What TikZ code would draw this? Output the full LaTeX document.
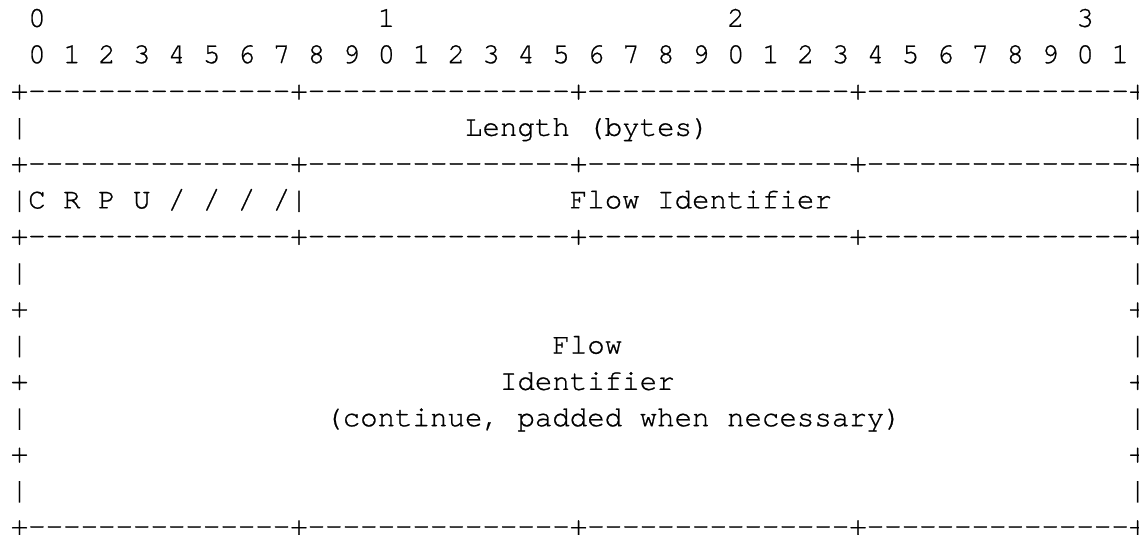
\documentclass[tikz,border=0pt]{standalone}
\usepackage{fontspec}
\setmonofont{TeX Gyre Cursor}[Ligatures=NoCommon, FakeBold=0.8]
\tikzset{
x=6pt, % one column of the ascii grid
y=-12.467pt, % one row of the ascii grid, counted downwards
every node/.style={inner sep=0pt, outer sep=0pt, font=\ttfamily\fontsize{10}{12}\selectfont},
cell/.style={anchor=base west, xshift=-3pt, yshift=-3pt}, % text starts at the left edge of its column
}

\begin{document}
\begin{tikzpicture}

\useasboundingbox (-1.116,-0.499) rectangle (64.08,14.212);

% bit numbers
\foreach \t in {0,1,2,3}
  \node[cell] at (20*\t+1, 0) (tens-\t) {\t};
\foreach \b in {0,...,31} {
  \pgfmathtruncatemacro{\d}{mod(\b,10)}
  \node[cell] at (2*\b+1, 1) (bit-\b) {\d};
}

% word borders
\foreach \r in {2,4,6,14}
  \node[cell] at (0, \r) (rule-\r) {+---------------+---------------+---------------+---------------+};

\node[cell] at (0, 3) (left-3) {|};
\node[cell] at (26, 3) (len) {Length (bytes)};
\node[cell] at (64, 3) (right-3) {|};

\node[cell] at (0, 5) (flags) {|C R P U / / / /|};
\node[cell] at (32, 5) (fid) {Flow Identifier};
\node[cell] at (64, 5) (right-5) {|};

% sides of the long field
\foreach \r in {7,9,11,13} {
  \node[cell] at (0, \r) (left-\r) {|};
  \node[cell] at (64, \r) (right-\r) {|};
}
\foreach \r in {8,10,12} {
  \node[cell] at (0, \r) (left-\r) {+};
  \node[cell] at (64, \r) (right-\r) {+};
}

\node[cell] at (31, 9) (flow) {Flow};
\node[cell] at (28, 10) (ident) {Identifier};
\node[cell] at (18, 11) (cont) {(continue, padded when necessary)};

\end{tikzpicture}
\end{document}
